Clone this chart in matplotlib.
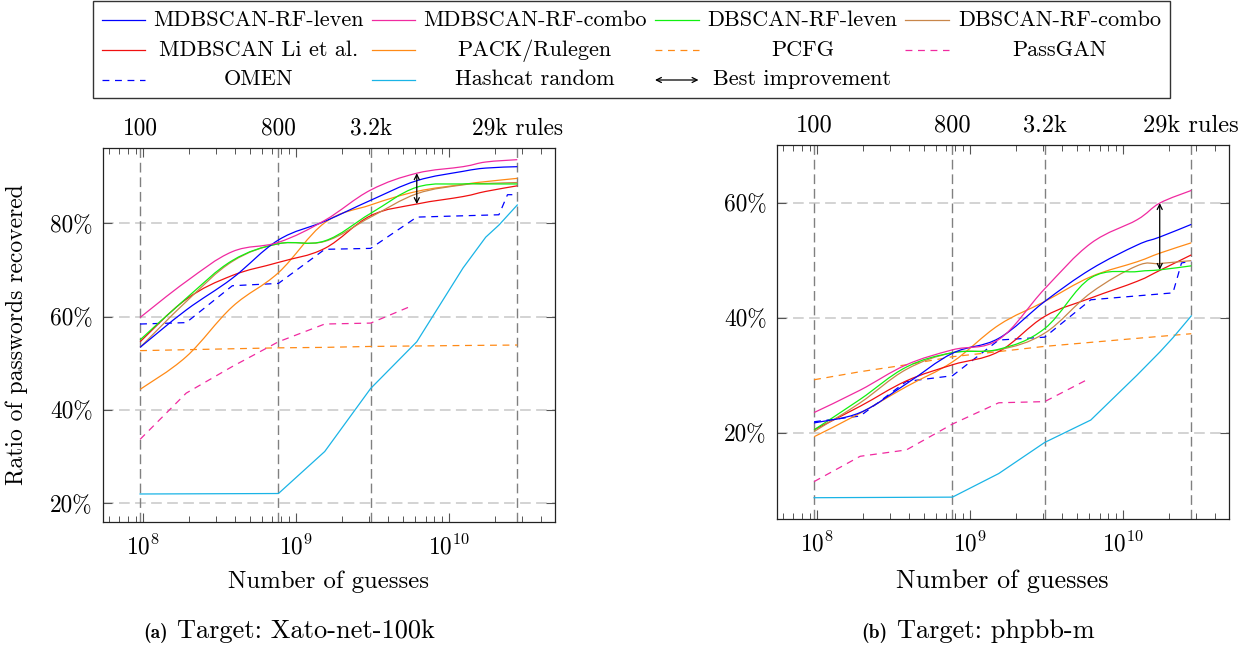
import numpy as np
import matplotlib
matplotlib.use('Agg')
import matplotlib.pyplot as plt
from matplotlib.path import Path
from matplotlib.patches import PathPatch, Rectangle, FancyArrowPatch
from matplotlib.lines import Line2D
from matplotlib.ticker import FuncFormatter, LogLocator, NullFormatter

plt.rcParams['font.family'] = 'cmr10'
plt.rcParams['mathtext.fontset'] = 'cm'
plt.rcParams['axes.formatter.use_mathtext'] = True
plt.rcParams['axes.unicode_minus'] = False

# rule checkpoints (top axis) in number of guesses
rule_labels = ['100', '800', '3.2k', '29k rules']
rule_guesses = [9.6e7, 7.68e8, 3.07e9, 2.78e10]

# x values (guesses) for each kind of series
g_main = [9.6e7, 1.92e8, 3.84e8, 7.68e8, 1.54e9, 3.07e9, 6.14e9, 1.23e10, 1.73e10, 2.78e10]
g_pcfg = [9.6e7, 1.92e8, 3.84e8, 7.68e8, 1.54e9, 3.07e9, 6.14e9, 1.23e10, 2.78e10]
g_passgan = [9.6e7, 1.92e8, 3.84e8, 7.68e8, 1.54e9, 3.07e9, 5.8e9]
g_omen = [9.6e7, 1.92e8, 3.84e8, 7.68e8, 1.54e9, 3.07e9, 6.14e9, 2.11e10, 2.4e10, 2.78e10]
g_hashcat = [9.6e7, 7.68e8, 1.54e9, 3.07e9, 6.14e9, 1.23e10, 1.73e10, 2.11e10, 2.78e10]

# (a) Xato-net-100k
xato_mdb_rf_leven = [53.4, 61.4, 68.2, 76.4, 80.4, 84.9, 89.1, 91.1, 91.8, 92.1]
xato_mdb_rf_combo = [59.8, 67.5, 73.9, 75.9, 80.6, 87.1, 90.7, 92.1, 93.1, 93.6]
xato_db_rf_leven = [55.0, 63.9, 72.0, 75.6, 76.2, 82.1, 87.7, 88.4, 88.4, 88.4]
xato_db_rf_combo = [53.4, 63.2, 71.8, 75.6, 76.1, 81.3, 86.3, 88.2, 88.5, 88.7]
xato_li = [54.6, 63.7, 68.8, 71.6, 74.6, 81.6, 84.1, 85.7, 86.8, 88.0]
xato_pack = [44.4, 51.4, 62.1, 69.4, 80.1, 83.9, 86.8, 88.3, 88.9, 89.6]
xato_pcfg = [52.7, 52.9, 53.1, 53.3, 53.4, 53.6, 53.7, 53.8, 53.9]
xato_passgan = [33.7, 43.6, 49.3, 54.6, 58.4, 58.6, 62.4]
xato_omen = [58.4, 58.7, 66.6, 67.1, 74.4, 74.6, 81.3, 81.8, 86.1, 86.1]
xato_hashcat = [22.0, 22.1, 31.1, 44.6, 54.6, 70.4, 77.0, 79.6, 83.9]
xato_arrow = [6.14e9, 84.1, 90.7]

# (b) phpbb-m
php_mdb_rf_leven = [21.7, 23.5, 28.5, 33.8, 36.4, 42.8, 48.4, 52.6, 54.0, 56.2]
php_mdb_rf_combo = [23.5, 27.4, 31.8, 34.4, 36.2, 45.0, 52.9, 57.0, 59.9, 62.1]
php_db_rf_leven = [20.5, 25.8, 31.4, 33.9, 34.5, 38.1, 46.9, 48.0, 48.3, 49.0]
php_db_rf_combo = [20.2, 25.2, 31.0, 33.9, 34.4, 37.3, 44.3, 49.0, 49.4, 49.9]
php_li = [20.5, 24.6, 29.0, 31.8, 34.1, 40.2, 43.4, 46.3, 48.2, 50.9]
php_pack = [19.3, 23.4, 28.0, 32.3, 38.7, 42.8, 47.1, 49.7, 51.2, 53.0]
php_pcfg = [29.2, 30.6, 31.8, 33.2, 34.1, 35.0, 35.7, 36.4, 37.2]
php_passgan = [11.5, 15.9, 17.0, 21.5, 25.2, 25.4, 29.2]
php_omen = [21.9, 22.9, 28.9, 29.9, 36.1, 36.6, 43.1, 44.3, 49.5, 49.8]
php_hashcat = [8.7, 8.8, 12.9, 18.3, 22.2, 30.0, 34.0, 36.5, 40.3]
php_arrow = [1.73e10, 48.3, 59.9]

BLUE = '#0000ff'
PINK = '#f02aa0'
GREEN = '#10f010'
TAN = '#c8864a'
RED = '#f01010'
ORANGE = '#ff8a16'
CYAN = '#1ab4e6'
LW = 0.9
DASH = (5.5, 4.5)

W, H = 1256, 650


def fx(x):
    return x / W


def fy(y):
    return 1 - y / H


def smooth_line(ax, x, y, color):
    """
    Draws a smooth curve through the points (bezier in log-x space)
    """
    pts = np.column_stack([np.log10(np.asarray(x, float)), np.asarray(y, float)])
    n = len(pts)
    k = 0.18
    verts = [pts[0]]
    codes = [Path.MOVETO]
    for i in range(n - 1):
        p0 = pts[max(i - 1, 0)]
        p1 = pts[i]
        p2 = pts[i + 1]
        p3 = pts[min(i + 2, n - 1)]
        verts += [p1 + (p2 - p0) * k, p2 - (p3 - p1) * k, p2]
        codes += [Path.CURVE4] * 3
    verts = np.array(verts)
    verts[:, 0] = 10 ** verts[:, 0]
    ax.add_patch(PathPatch(Path(verts, codes), fill=False, edgecolor=color,
                           lw=LW, zorder=3))


def setup(ax, ylim, yticks, top_size):
    ax.set_xscale('log')
    ax.set_xlim(5.5e7, 4.9e10)
    ax.set_ylim(*ylim)
    ax.set_yticks(yticks)
    ax.yaxis.set_major_formatter(FuncFormatter(lambda v, p: '{:.0f}%'.format(v)))
    ax.xaxis.set_major_locator(LogLocator(base=10))
    ax.xaxis.set_minor_locator(LogLocator(base=10, subs=np.arange(2, 10)))
    ax.xaxis.set_minor_formatter(NullFormatter())
    ax.tick_params(which='both', direction='in', top=True, right=True,
                   colors='#555555', labelcolor='black')
    ax.tick_params(which='major', length=6.8, width=0.8, labelsize=16.8)
    ax.tick_params(which='minor', length=4.5, width=0.7)
    ax.tick_params(axis='x', pad=9)
    ax.tick_params(axis='y', pad=7.5)
    for s in ax.spines.values():
        s.set_color('#222222')
        s.set_linewidth(0.9)
    for y in yticks:
        ax.axhline(y, color='#c8c8c8', lw=1.1, dashes=(7, 3.5), zorder=0)
    for x in rule_guesses:
        ax.axvline(x, color='#808080', lw=1.0, dashes=(7, 3.5), zorder=0.5)
    for x, lab in zip(rule_guesses, rule_labels):
        ax.text(x, 1.037, lab, transform=ax.get_xaxis_transform(),
                ha='center', va='baseline', fontsize=top_size)


def draw_panel(ax, d):
    smooth_line(ax, g_main, d['pack'], ORANGE)
    smooth_line(ax, g_main, d['li'], RED)
    smooth_line(ax, g_main, d['db_combo'], TAN)
    smooth_line(ax, g_main, d['db_leven'], GREEN)
    smooth_line(ax, g_main, d['mdb_leven'], BLUE)
    smooth_line(ax, g_main, d['mdb_combo'], PINK)
    ax.plot(g_pcfg, d['pcfg'], color=ORANGE, lw=LW, dashes=DASH)
    ax.plot(g_passgan, d['passgan'], color=PINK, lw=LW, dashes=DASH)
    ax.plot(g_omen, d['omen'], color=BLUE, lw=LW, dashes=DASH)
    ax.plot(g_hashcat, d['hashcat'], color=CYAN, lw=LW)
    ax_x, lo, hi = d['arrow']
    ax.annotate('', xy=(ax_x, hi), xytext=(ax_x, lo),
                arrowprops=dict(arrowstyle='<->', color='black', lw=0.9,
                                mutation_scale=9, shrinkA=0, shrinkB=0),
                zorder=5)


fig = plt.figure(figsize=(12.56, 6.5), dpi=100)
ax1 = fig.add_axes([fx(103), fy(522), 452 / W, 374 / H])
ax2 = fig.add_axes([fx(777), fy(519), 452 / W, 374 / H])

setup(ax1, (16, 96.1), [20, 40, 60, 80], 16.8)
setup(ax2, (5, 70), [20, 40, 60], 17.6)

draw_panel(ax1, dict(mdb_leven=xato_mdb_rf_leven, mdb_combo=xato_mdb_rf_combo,
                     db_leven=xato_db_rf_leven, db_combo=xato_db_rf_combo,
                     li=xato_li, pack=xato_pack, pcfg=xato_pcfg,
                     passgan=xato_passgan, omen=xato_omen,
                     hashcat=xato_hashcat, arrow=xato_arrow))
draw_panel(ax2, dict(mdb_leven=php_mdb_rf_leven, mdb_combo=php_mdb_rf_combo,
                     db_leven=php_db_rf_leven, db_combo=php_db_rf_combo,
                     li=php_li, pack=php_pack, pcfg=php_pcfg,
                     passgan=php_passgan, omen=php_omen,
                     hashcat=php_hashcat, arrow=php_arrow))

# axis labels and captions
fig.text(fx(16.7), fy(335), 'Ratio of passwords recovered', rotation=90,
         ha='center', va='center', fontsize=17)
fig.text(fx(328), fy(588), 'Number of guesses', ha='center', va='baseline', fontsize=17.8)
fig.text(fx(1002), fy(588), 'Number of guesses', ha='center', va='baseline', fontsize=18.8)
fig.text(fx(168), fy(638), '(a)', family='cmb10', ha='right', va='baseline', fontsize=14)
fig.text(fx(177), fy(638), 'Target: Xato-net-100k', ha='left', va='baseline', fontsize=19)
fig.text(fx(887), fy(638), '(b)', family='cmb10', ha='right', va='baseline', fontsize=14)
fig.text(fx(897), fy(638), 'Target: phpbb-m', ha='left', va='baseline', fontsize=19)

# legend drawn by hand (pgfplots style, centered text cells)
legend_rows = [
    [('MDBSCAN-RF-leven', BLUE, None), ('MDBSCAN-RF-combo', PINK, None),
     ('DBSCAN-RF-leven', GREEN, None), ('DBSCAN-RF-combo', TAN, None)],
    [('MDBSCAN Li et al.', RED, None), ('PACK/Rulegen', ORANGE, None),
     ('PCFG', ORANGE, DASH), ('PassGAN', PINK, DASH)],
    [('OMEN', BLUE, DASH), ('Hashcat random', CYAN, None),
     ('Best improvement', 'black', 'arrow')],
]
handle_x = [101.7, 371.7, 655, 905]
text_cx = [258.5, 534.5, 802.5, 1059.5]
row_y = [20, 50, 80]
text_base = [26, 55.5, 85]

fig.add_artist(Rectangle((fx(93), fy(98)), 1077 / W, 97 / H, transform=fig.transFigure,
                         fill=False, edgecolor='#333333', lw=1.0))
for r, row in enumerate(legend_rows):
    for c, (lab, col, style) in enumerate(row):
        x0, x1 = fx(handle_x[c]), fx(handle_x[c] + 43.5)
        y = fy(row_y[r])
        if style == 'arrow':
            fig.add_artist(FancyArrowPatch((x0, y), (x1, y), transform=fig.transFigure,
                                           arrowstyle='<->', mutation_scale=9,
                                           color='black', lw=0.9, shrinkA=0, shrinkB=0))
        elif style is None:
            fig.add_artist(Line2D([x0, x1], [y, y], transform=fig.transFigure,
                                  color=col, lw=LW))
        else:
            fig.add_artist(Line2D([x0, x1], [y, y], transform=fig.transFigure,
                                  color=col, lw=LW, dashes=style))
        if style == 'arrow':
            fig.text(fx(713), fy(text_base[r]), lab, ha='left', va='baseline', fontsize=16)
        else:
            fig.text(fx(text_cx[c]), fy(text_base[r]), lab, ha='center',
                     va='baseline', fontsize=16)

fig.savefig('out.png', dpi=100)
